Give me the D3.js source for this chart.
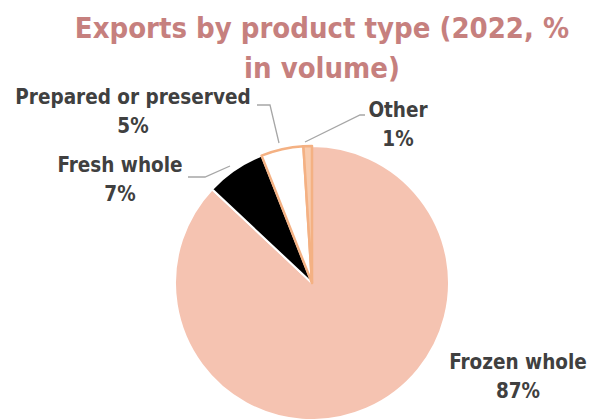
<!DOCTYPE html>
<html>
<head>
<meta charset="utf-8">
<script src="https://cdn.jsdelivr.net/npm/d3@7"></script>
<style>
  html, body { margin: 0; padding: 0; background: #fff; overflow: hidden; }
  text { font-family: "DejaVu Sans Condensed", "DejaVu Sans", sans-serif; font-stretch: condensed; font-weight: bold; }
</style>
</head>
<body>
<div id="chart"></div>
<script>
var width = 595;
var height = 419;

// data
var categories = ["Frozen whole", "Fresh whole", "Prepared or preserved", "Other"];
var shares = [87, 7, 5, 1];
var fills = ["#F5C3B1", "#000000", "#FFFFFF", "#F8CBAD"];
var strokes = ["#FFFFFF", "#FFFFFF", "#F4B183", "#F4B183"];

var cx = 312, cy = 283, radius = 137;

var svg = d3.select("#chart")
  .append("svg")
  .attr("width", width)
  .attr("height", height);

// title
var title = svg.append("text")
  .attr("text-anchor", "middle")
  .attr("fill", "#C6807E")
  .style("font-size", "29px");
title.append("tspan").attr("x", 322).attr("y", 38).text("Exports by product type (2022, %");
title.append("tspan").attr("x", 322).attr("y", 78).text("in volume)");

// pie, frozen starts at 12 o'clock and runs clockwise
var pie = d3.pie().sort(null).value(function (d) { return d; });
var arcs = pie(shares);
var arc = d3.arc().innerRadius(0).outerRadius(radius);

var g = svg.append("g").attr("transform", "translate(" + cx + "," + cy + ")");

g.selectAll("path")
  .data(arcs)
  .enter()
  .append("path")
  .attr("d", arc)
  .attr("fill", function (d, i) { return fills[i]; })
  .attr("stroke", function (d, i) { return strokes[i]; })
  .attr("stroke-width", function (d, i) { return i >= 2 ? 2.5 : 2; })
  .attr("stroke-linejoin", "round");

// labels: anchor point + leader line polyline
var labels = [
  { x: 518, y: 369, line: null },
  { x: 120, y: 172, line: [[188, 177], [205, 177], [230, 166]] },
  { x: 133, y: 104, line: [[257, 105], [270, 105], [279, 143]] },
  { x: 398, y: 117, line: [[365, 115], [360, 115], [305, 142]] }
];

var lineGen = d3.line();
labels.forEach(function (l, i) {
  if (l.line) {
    svg.append("path")
      .attr("d", lineGen(l.line))
      .attr("fill", "none")
      .attr("stroke", "#A6A6A6")
      .attr("stroke-width", 1.3);
  }
  var t = svg.append("text")
    .attr("text-anchor", "middle")
    .attr("fill", "#404040")
    .style("font-size", "20.5px");
  t.append("tspan").attr("x", l.x).attr("y", l.y).text(categories[i]);
  t.append("tspan").attr("x", l.x).attr("y", l.y + 29).text(shares[i] + "%");
});
</script>
</body>
</html>
